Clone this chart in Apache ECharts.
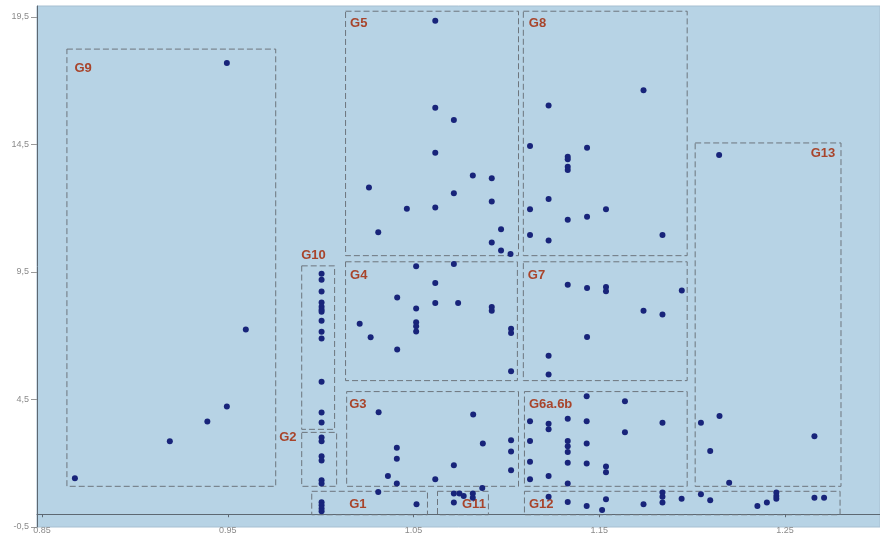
<!DOCTYPE html>
<html>
<head>
<meta charset="utf-8">
<script src="https://cdn.jsdelivr.net/npm/echarts@6/dist/echarts.min.js"></script>
<style>
  html, body { margin: 0; padding: 0; background: #ffffff; }
  #chart { width: 880px; height: 535px; }
</style>
</head>
<body>
<div id="chart"></div>
<script>
// Tick positions shown on the axes
const xTicks = [0.85, 0.95, 1.05, 1.15, 1.25];
const yTicks = [-0.5, 4.5, 9.5, 14.5, 19.5];

// Observations, one array per group: [x, y]
const g9 = [[0.8677, 1.41], [0.9188, 2.86], [0.939, 3.64], [0.9495, 4.23], [0.9597, 7.24], [0.9495, 17.69]];
const g10 = [[1.0005, 9.43], [1.0005, 9.20], [1.0005, 8.73], [1.0005, 8.30], [1.0005, 8.14], [1.0005, 8.02],
  [1.0005, 7.94], [1.0005, 7.59], [1.0005, 7.16], [1.0005, 6.89], [1.0005, 5.20], [1.0005, 3.99], [1.0005, 3.60]];
const g2 = [[1.0005, 3.01], [1.0005, 2.86], [1.0005, 2.27], [1.0005, 2.11], [1.0005, 1.33], [1.0005, 1.21]];
const g1 = [[1.0005, 0.47], [1.0005, 0.35], [1.0005, 0.23], [1.0005, 0.12], [1.0516, 0.39], [1.031, 0.87]];
const g11 = [[1.0717, 0.81], [1.0747, 0.81], [1.077, 0.72], [1.0819, 0.81], [1.0819, 0.65], [1.0717, 0.46]];
const g3 = [[1.0312, 4.00], [1.041, 2.61], [1.041, 2.18], [1.0362, 1.50], [1.041, 1.21], [1.0617, 1.37],
  [1.0717, 1.92], [1.0821, 3.91], [1.0873, 2.77], [1.1025, 2.90], [1.1025, 2.46], [1.1025, 1.73], [1.087, 1.03]];
const g6 = [[1.1127, 3.65], [1.1127, 2.87], [1.1127, 2.06], [1.1127, 1.37], [1.1227, 3.55], [1.1227, 3.33],
  [1.1227, 1.50], [1.133, 3.74], [1.133, 2.87], [1.133, 2.67], [1.133, 2.44], [1.133, 2.02], [1.133, 1.21],
  [1.1432, 4.63], [1.1432, 3.65], [1.1432, 2.77], [1.1432, 1.99], [1.1536, 1.87], [1.1536, 1.65],
  [1.1638, 4.43], [1.1638, 3.22], [1.184, 3.59]];
const g12 = [[1.1227, 0.69], [1.133, 0.48], [1.1432, 0.32], [1.1515, 0.17], [1.1536, 0.59], [1.1738, 0.39],
  [1.184, 0.85], [1.184, 0.69], [1.184, 0.46], [1.1943, 0.61], [1.2047, 0.78], [1.2097, 0.55],
  [1.2351, 0.32], [1.2402, 0.46], [1.2453, 0.85], [1.2453, 0.72], [1.2453, 0.61], [1.2658, 0.65], [1.271, 0.65]];
const g13 = [[1.2145, 14.09], [1.2047, 3.59], [1.2147, 3.85], [1.2097, 2.48], [1.2199, 1.24], [1.2658, 3.06]];
const g5 = [[1.0617, 19.35], [1.0617, 15.94], [1.0717, 15.46], [1.0617, 14.18], [1.0819, 13.28], [1.0921, 13.18],
  [1.026, 12.81], [1.0717, 12.59], [1.0921, 12.26], [1.0464, 11.98], [1.0617, 12.03], [1.031, 11.06],
  [1.0971, 11.18], [1.0921, 10.66], [1.0971, 10.34], [1.1022, 10.21]];
const g8 = [[1.1738, 16.63], [1.1227, 16.03], [1.1127, 14.44], [1.1434, 14.37], [1.133, 14.02], [1.133, 13.92],
  [1.133, 13.63], [1.133, 13.50], [1.1227, 12.36], [1.1127, 11.96], [1.1536, 11.96], [1.133, 11.55],
  [1.1434, 11.67], [1.1127, 10.95], [1.1227, 10.73], [1.184, 10.95]];
const g4 = [[1.0514, 9.72], [1.0717, 9.81], [1.0617, 9.07], [1.0412, 8.50], [1.0617, 8.28], [1.074, 8.28],
  [1.0514, 8.07], [1.0921, 8.13], [1.0921, 7.98], [1.021, 7.47], [1.0514, 7.53], [1.0514, 7.37],
  [1.0514, 7.17], [1.0269, 6.94], [1.1025, 7.27], [1.1025, 7.11], [1.0412, 6.46], [1.1025, 5.61]];
const g7 = [[1.133, 9.00], [1.1434, 8.87], [1.1536, 8.91], [1.1536, 8.74], [1.1944, 8.77], [1.1738, 7.98],
  [1.184, 7.83], [1.1434, 6.95], [1.1227, 6.22], [1.1227, 5.48]];

// Group regions: [name, xFrom, xTo, yFrom, yTo]
const boxes = [
  ['G9', 0.8634, 0.9758, 1.095, 18.24],
  ['G10', 0.9898, 1.0075, 3.33, 9.74],
  ['G2', 0.9898, 1.0086, 1.095, 3.21],
  ['G1', 0.9952, 1.0575, -0.02, 0.90],
  ['G11', 1.0629, 1.0903, -0.02, 0.90],
  ['G3', 1.014, 1.1065, 1.095, 4.81],
  ['G6a.6b', 1.1097, 1.1973, 1.095, 4.81],
  ['G12', 1.1097, 1.2796, -0.02, 0.90],
  ['G13', 1.2016, 1.2801, 1.095, 14.56],
  ['G5', 1.0134, 1.1065, 10.14, 19.725],
  ['G8', 1.1091, 1.1973, 10.14, 19.725],
  ['G4', 1.0134, 1.1059, 5.24, 9.90],
  ['G7', 1.1091, 1.1973, 5.24, 9.90]
];

// Where each group name sits relative to its box's top-left corner (px)
const labelPlacement = {
  'G9': [8, 20], 'G10': [0, -10], 'G2': [-22, 6], 'G1': [38, 14], 'G11': [25, 14],
  'G3': [3, 13], 'G6a.6b': [5, 13], 'G12': [5, 14], 'G13': [116, 11],
  'G5': [5, 13], 'G8': [6, 13], 'G4': [5, 14], 'G7': [5, 14]
};

const allPoints = [].concat(g9, g10, g2, g1, g11, g3, g6, g12, g13, g5, g8, g4, g7);

const axisColor = '#5d6872';
const tickLabelStyle = { fontSize: 9, color: '#8a8a8a', fontFamily: 'Liberation Sans, Arial, sans-serif' };

const chart = echarts.init(document.getElementById('chart'), null, { renderer: 'canvas' });

chart.setOption({
  animation: false,
  grid: {
    left: 37, top: 6, right: -1, bottom: 7,
    show: true,
    backgroundColor: '#b7d3e5',
    borderColor: '#a6bfd1',
    borderWidth: 1
  },
  xAxis: [
    {
      type: 'value',
      min: 0.8473, max: 1.3011,
      position: 'bottom',
      axisLine: { show: true, onZero: true, lineStyle: { color: axisColor, width: 1 } },
      axisTick: { show: true, customValues: xTicks, length: 3, lineStyle: { color: axisColor } },
      axisLabel: { show: false },
      splitLine: { show: false }
    },
    {
      type: 'value',
      min: 0.8473, max: 1.3011,
      position: 'bottom',
      axisLine: { show: false, onZero: false },
      axisTick: { show: false },
      axisLabel: Object.assign({
        customValues: xTicks,
        margin: -1,
        formatter: v => v.toFixed(2)
      }, tickLabelStyle),
      splitLine: { show: false }
    }
  ],
  yAxis: {
    type: 'value',
    min: -0.5, max: 19.93,
    axisLine: { show: true, onZero: false, lineStyle: { color: axisColor, width: 1 } },
    axisTick: { show: true, customValues: yTicks, length: 6, lineStyle: { color: '#9a9a9a' } },
    axisLabel: Object.assign({
      customValues: yTicks,
      margin: 8,
      formatter: v => v.toFixed(1).replace('.', ',')
    }, tickLabelStyle),
    splitLine: { show: false }
  },
  series: [{
    type: 'scatter',
    xAxisIndex: 0,
    data: allPoints,
    symbol: 'circle',
    symbolSize: 6,
    itemStyle: { color: '#18247a', opacity: 1 },
    z: 5,
    markArea: {
      silent: true,
      itemStyle: {
        color: 'rgba(0,0,0,0)',
        borderColor: '#6d757d',
        borderWidth: 1,
        borderType: [6, 3]
      },
      label: {
        show: true,
        color: '#a8442b',
        fontWeight: 'bold',
        fontSize: 13,
        fontFamily: 'Liberation Sans, Arial, sans-serif'
      },
      data: boxes.map(b => [
        {
          name: b[0],
          xAxis: b[1],
          yAxis: b[4],
          label: {
            position: labelPlacement[b[0]],
            align: 'left',
            verticalAlign: 'middle'
          }
        },
        { xAxis: b[2], yAxis: b[3] }
      ])
    }
  }]
});
</script>
</body>
</html>
